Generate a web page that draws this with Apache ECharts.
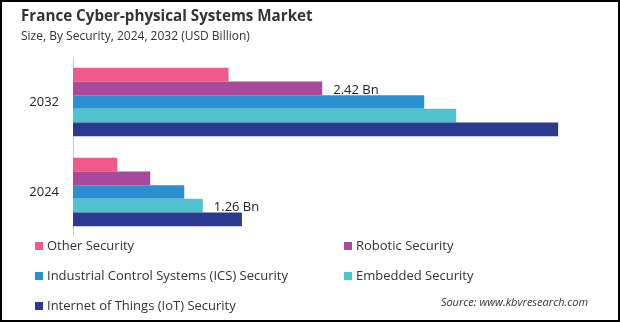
<!DOCTYPE html>
<html><head><meta charset="utf-8">
<script src="https://cdn.jsdelivr.net/npm/echarts@6/dist/echarts.min.js"></script>
<style>html,body{margin:0;padding:0;background:#fff}#c{width:620px;height:322px}</style>
</head><body><div id="c"></div>
<script>
const categories = ['2024', '2032'];
const seriesNames = ['Other Security', 'Robotic Security', 'Industrial Control Systems (ICS) Security', 'Embedded Security', 'Internet of Things (IoT) Security'];
const otherSecurity = [0.43, 1.51];
const roboticSecurity = [0.75, 2.42];
const icsSecurity = [1.08, 3.41];
const embeddedSecurity = [1.26, 3.72];
const iotSecurity = [1.64, 4.71];
const colors = ['#EF5A8A', '#A74A9B', '#2B90D0', '#50C2CF', '#2B3990'];
const labelled = { 'Robotic Security': 1, 'Embedded Security': 0 };

const values = [otherSecurity, roboticSecurity, icsSecurity, embeddedSecurity, iotSecurity];
const font = 'Open Sans, sans-serif';

const series = seriesNames.map((name, i) => ({
  name: name, type: 'bar', barGap: 0, barCategoryGap: '24%',
  itemStyle: { color: colors[i] },
  label: { show: false, position: 'right', distance: 10, formatter: '{c} Bn', color: '#222', fontSize: 13, fontFamily: font, offset: [1, 2] },
  data: values[i].map((v, j) => labelled[name] === j ? { value: v, label: { show: true } } : v)
}));

const legendCommon = {
  orient: 'vertical', icon: 'rect', itemWidth: 8, itemHeight: 8, itemGap: 17,
  textStyle: { fontSize: 13, color: '#333', fontFamily: font, padding: [0,0,0,-1] },
  top: 239.5, padding: 0, selectedMode: false
};

const chart = echarts.init(document.getElementById('c'));
chart.setOption({
  animation: false,
  title: [
    { text: 'France Cyber-physical Systems Market', left: 21, top: 9, padding: 0,
      textStyle: { fontSize: 15.2, fontWeight: 'bold', color: '#333', fontFamily: font } },
    { text: 'Size, By Security, 2024, 2032 (USD Billion)', left: 21, top: 31, padding: 0,
      textStyle: { fontSize: 12, fontWeight: 'normal', color: '#333', fontFamily: font } },
    { text: 'Source: www.kbvresearch.com', right: 32, top: 297, padding: 0,
      textStyle: { fontSize: 11, fontStyle: 'italic', fontWeight: 'normal', color: '#333', fontFamily: font } }
  ],
  legend: [
    Object.assign({}, legendCommon, { left: 35, data: [seriesNames[0], seriesNames[2], seriesNames[4]] }),
    Object.assign({}, legendCommon, { left: 344, data: [seriesNames[1], seriesNames[3]] })
  ],
  grid: { left: 73, right: 32, top: 57, bottom: 85 },
  xAxis: { type: 'value', min: 0, max: 5, show: false },
  yAxis: {
    type: 'category', data: categories,
    axisLine: { show: true, lineStyle: { color: '#ccc', width: 1 } },
    axisTick: { show: false },
    axisLabel: { fontSize: 13, color: '#222', fontFamily: font, margin: 14 }
  },
  graphic: [{ type: 'rect', shape: { x: 1, y: 1, width: 618, height: 320 }, style: { fill: 'none', stroke: '#000', lineWidth: 2 }, silent: true }],
  series: series
});
</script></body></html>
